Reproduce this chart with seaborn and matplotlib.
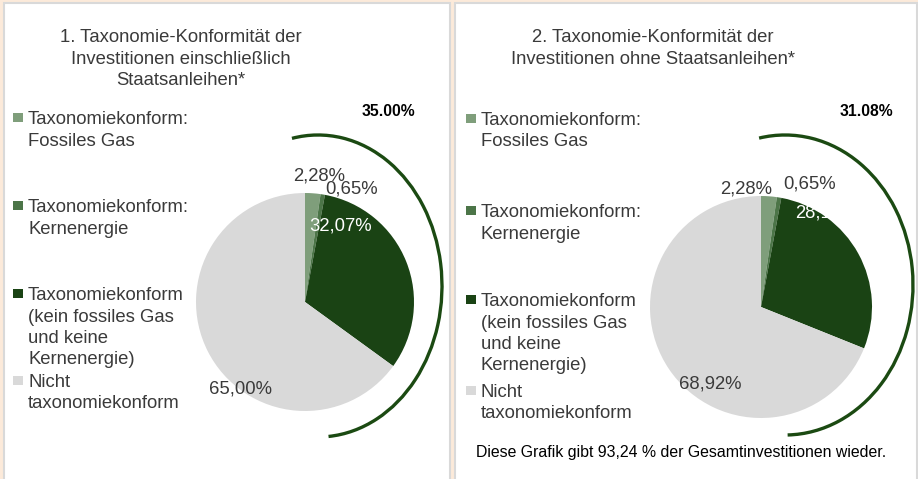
import matplotlib
matplotlib.use('Agg')
import matplotlib.pyplot as plt
from matplotlib.patches import Rectangle, Arc
from matplotlib.transforms import Bbox, TransformedBbox
import seaborn as sns

# --- data -------------------------------------------------------------------
categories = ['Taxonomiekonform: Fossiles Gas',
              'Taxonomiekonform: Kernenergie',
              'Taxonomiekonform (kein fossiles Gas und keine Kernenergie)',
              'Nicht taxonomiekonform']
legend_lines = [['Taxonomiekonform:', 'Fossiles Gas'],
                ['Taxonomiekonform:', 'Kernenergie'],
                ['Taxonomiekonform', '(kein fossiles Gas', 'und keine', 'Kernenergie)'],
                ['Nicht', 'taxonomiekonform']]
values_incl = [2.28, 0.65, 32.07, 65.00]   # inkl. Staatsanleihen
values_excl = [2.28, 0.65, 28.15, 68.92]   # ohne Staatsanleihen
titles = [['1. Taxonomie-Konformität der', 'Investitionen einschließlich', 'Staatsanleihen*'],
          ['2. Taxonomie-Konformität der', 'Investitionen ohne Staatsanleihen*']]
footnote = 'Diese Grafik gibt 93,24 % der Gesamtinvestitionen wieder.'

colors = ['#7F9E7B', '#4C7548', '#1A4314', '#D9D9D9']
arc_color = '#1B4A12'
text_color = '#3A3A3A'

W, H = 918, 479
FS = 13.3

sns.set_style('white')
plt.rcParams['font.family'] = ['Liberation Sans', 'DejaVu Sans']

fig = plt.figure(figsize=(W / 100, H / 100), dpi=100)
fig.patch.set_facecolor('#FCEADA')

bg = fig.add_axes([0, 0, 1, 1])
bg.set_xlim(0, W)
bg.set_ylim(H, 0)
bg.axis('off')


def lines_at(x, y0, lines, step=21.5, **kw):
    for i, s in enumerate(lines):
        bg.text(x, y0 + i * step, s, va='baseline', **kw)


# panel layout (pixel positions)
panels = [
    dict(box=(4, 3, 446), values=values_incl, title_x=181, title_y=42,
         pie=(305, 302, 109), leg_x=13, leg_y=[124, 212, 300, 387],
         total_xy=(388, 116), arc=(318, 286, 248, 302, -100, 86),
         lab_pos=[(0.13, 1.16), (0.43, 1.04), (0.33, 0.70), (-0.59, -0.80)],
         clip_x=None),
    dict(box=(455, 3, 462), values=values_excl, title_x=653, title_y=42,
         pie=(761, 307, 111), leg_x=466, leg_y=[125, 217, 306, 397],
         total_xy=(866, 116), arc=(785, 285, 256, 300, -100, 89),
         lab_pos=[(-0.13, 1.06), (0.44, 1.11), (0.59, 0.85), (-0.46, -0.69)],
         clip_x=839),
]

for k, p in enumerate(panels):
    x0, y0, w = p['box']
    bg.add_patch(Rectangle((x0, y0), w, H, facecolor='white',
                           edgecolor='#D9D9D9', lw=1.5))

    # title
    lines_at(p['title_x'], p['title_y'], titles[k], ha='center',
             fontsize=FS, color=text_color)

    # legend
    for c, lab, ly in zip(colors, legend_lines, p['leg_y']):
        bg.add_patch(Rectangle((p['leg_x'], ly - 11.5), 9.5, 9.5,
                               facecolor=c, edgecolor='none'))
        lines_at(p['leg_x'] + 15, ly, lab, fontsize=FS, color=text_color)

    # pie
    cx, cy, r = p['pie']
    ax = fig.add_axes([(cx - r) / W, (H - cy - r) / H, 2 * r / W, 2 * r / H])
    vals = p['values']
    ax.pie(vals, colors=colors, startangle=90, counterclock=False,
           wedgeprops=dict(linewidth=0))
    ax.set_xlim(-1, 1)
    ax.set_ylim(-1, 1)
    ax.axis('off')
    for i, (v, (lx, ly)) in enumerate(zip(vals, p['lab_pos'])):
        t = ax.text(lx, ly, f'{v:.2f}'.replace('.', ',') + '%', ha='center',
                    va='center', fontsize=FS,
                    color='white' if i == 2 else text_color)
        if p['clip_x'] is not None and i == 2:
            t.set_clip_box(TransformedBbox(
                Bbox.from_extents(0, 0, p['clip_x'] / W, 1), fig.transFigure))
            t.set_clip_on(True)

    # bracket arc around the taxonomy-aligned share
    acx, acy, aw, ah, t1, t2 = p['arc']
    bg.add_patch(Arc((acx, acy), aw, ah, theta1=t1, theta2=t2,
                     color=arc_color, lw=2.4))
    total = sum(vals[:3])
    bg.text(*p['total_xy'], f'{total:.2f}%', ha='center', va='baseline',
            fontsize=11.3, fontweight='bold', color='black')

bg.text(476, 457, footnote, ha='left', va='baseline', fontsize=11.45,
        color='black')

fig.savefig('out.png', dpi=100)
